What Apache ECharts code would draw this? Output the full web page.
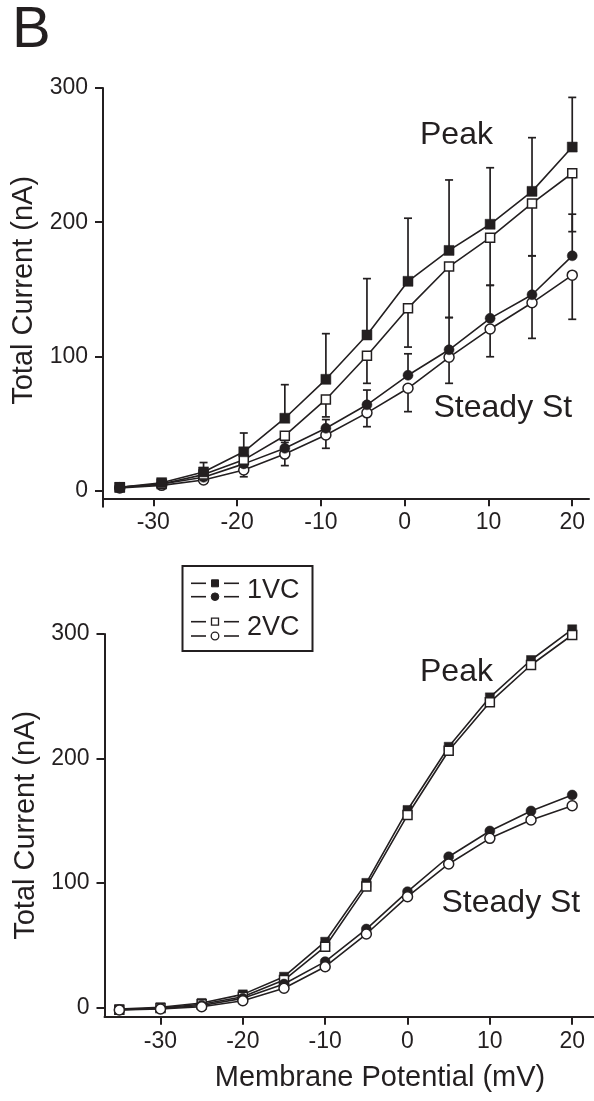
<!DOCTYPE html>
<html>
<head>
<meta charset="utf-8">
<title>Total Current vs Membrane Potential</title>
<script src="https://cdn.jsdelivr.net/npm/echarts@6/dist/echarts.min.js"></script>
<style>
  html, body { margin: 0; padding: 0; background: #fff; }
  #chart { width: 594px; height: 1101px; }
</style>
</head>
<body>
<div id="chart"></div>
<script>
// Membrane potential steps (mV) for the upper panel (mean ± SD) and lower panel
const vTop = [-34, -29, -24, -19.2, -14.3, -9.4, -4.5, 0.4, 5.3, 10.2, 15.2, 20];
const vBottom = [-35, -30, -25, -20, -15, -10, -5, 0, 5, 10, 15, 20];

// Upper panel: means and the end of each one-sided SD bar (nA)
const peak1Top = [2.5, 6, 14, 29, 54, 83, 116, 156, 179, 198.5, 223, 256];
const peak1TopSd = [3, 7, 21, 43, 79, 117, 158, 203, 231.5, 240.6, 263, 293];
const peak2Top = [2.5, 5, 12, 23, 41, 68, 100.5, 136, 167, 188.5, 214, 236.5];
const peak2TopSd = [2, 4, 9, 17, 33, 55, 80, 107, 129, 153, 175, 193];
const steady1Top = [2.5, 5, 10, 20, 31.6, 46.5, 64, 86, 105, 128.4, 146, 175];
const steady1TopSd = [3, 6, 12, 24, 36, 53, 75, 102, 129, 153, 175, 206];
const steady2Top = [2, 4, 8, 15.4, 27.3, 41.5, 58, 76.3, 99.4, 120.5, 140, 160.6];
const steady2TopSd = [1.5, 3, 5.7, 10.4, 18.7, 31.6, 47.7, 58.9, 80, 99.8, 113.5, 127.7];

// Lower panel (nA)
const peak1Bottom = [-1.5, 0, 3.5, 10.4, 24.6, 52.7, 100, 158.6, 209.4, 249.1, 279.1, 303.8];
const peak2Bottom = [-2, -0.5, 2.5, 8.5, 21.9, 48.7, 97, 154.5, 206.2, 245.1, 275.1, 299.2];
const steady1Bottom = [-2, -1, 1.5, 7.2, 18.7, 36.7, 62.9, 92.9, 121, 141.7, 157.8, 170.6];
const steady2Bottom = [-2.2, -1.4, 0.5, 5.3, 15.3, 32.6, 58.9, 88.9, 115.2, 135.8, 150.5, 162];

// Tick labels
const xTicks = [-30, -20, -10, 0, 10, 20];
const yTicks = [0, 100, 200, 300];

const ink = '#231f20';
const font = "'Liberation Sans', Arial, Helvetica, sans-serif";

function pairs(xs, ys) { return xs.map((x, i) => [x, ys[i]]); }
function triples(xs, ys, es) { return xs.map((x, i) => [x, ys[i], es[i]]); }

function errRender(params, api) {
  const x = api.value(0), v = api.value(1), e = api.value(2);
  const p0 = api.coord([x, v]);
  const p1 = api.coord([x, e]);
  const hw = 4;
  return {
    type: 'group',
    children: [
      { type: 'line', shape: { x1: p0[0], y1: p0[1], x2: p1[0], y2: p1[1] },
        style: { stroke: ink, lineWidth: 1.7 } },
      { type: 'line', shape: { x1: p1[0] - hw, y1: p1[1], x2: p1[0] + hw, y2: p1[1] },
        style: { stroke: ink, lineWidth: 1.7 } }
    ]
  };
}

function errSeries(idx, xs, ys, es) {
  return {
    type: 'custom', xAxisIndex: idx, yAxisIndex: idx, z: 1,
    renderItem: errRender, encode: { x: 0, y: 1 },
    data: triples(xs, ys, es), silent: true, clip: false
  };
}

function lineSeries(idx, xs, ys, symbol, filled, size) {
  return {
    type: 'line', xAxisIndex: idx, yAxisIndex: idx, z: 3,
    data: pairs(xs, ys), symbol: symbol, symbolSize: size, showSymbol: true,
    clip: false, silent: true,
    lineStyle: { color: ink, width: 1.6 },
    itemStyle: filled
      ? { color: ink, borderColor: ink, borderWidth: 0.5 }
      : { color: '#ffffff', borderColor: ink, borderWidth: 1.5 }
  };
}

function makeX(gridIndex, min, max, offset) {
  return {
    type: 'value', gridIndex: gridIndex, min: min, max: max, offset: offset,
    axisLine: { show: true, onZero: false, lineStyle: { color: ink, width: 2 } },
    axisTick: { show: true, length: 8, customValues: xTicks, lineStyle: { color: ink, width: 2 } },
    axisLabel: { customValues: xTicks, color: ink, fontSize: 23, fontFamily: font, margin: 13 },
    splitLine: { show: false }
  };
}

function makeY(gridIndex, min, padLeft) {
  return {
    type: 'value', gridIndex: gridIndex, min: min, max: 300,
    name: 'Total Current (nA)', nameLocation: 'middle', nameGap: 62,
    nameTextStyle: { color: ink, fontSize: 29, fontFamily: font, padding: [0, 0, 0, padLeft] },
    axisLine: { show: true, onZero: false, lineStyle: { color: ink, width: 2 } },
    axisTick: { show: true, length: 8, customValues: yTicks, lineStyle: { color: ink, width: 2 } },
    axisLabel: { customValues: yTicks, color: ink, fontSize: 23, fontFamily: font, margin: 15 },
    splitLine: { show: false }
  };
}

function legendGraphics() {
  const g = [];
  g.push({ type: 'rect', shape: { x: 182.5, y: 566, width: 130, height: 85 },
    style: { fill: '#fff', stroke: ink, lineWidth: 2 }, z: 10 });
  const rows = [
    { ys: [583.3, 596.7], filled: true, label: '1VC', ty: 590.5 },
    { ys: [621.7, 636], filled: false, label: '2VC', ty: 628 }
  ];
  rows.forEach(r => {
    r.ys.forEach((y, k) => {
      g.push({ type: 'line', shape: { x1: 191, y1: y, x2: 206, y2: y }, style: { stroke: ink, lineWidth: 1.6 }, z: 11 });
      g.push({ type: 'line', shape: { x1: 224, y1: y, x2: 239, y2: y }, style: { stroke: ink, lineWidth: 1.6 }, z: 11 });
      const st = r.filled ? { fill: ink, stroke: ink, lineWidth: 1 } : { fill: '#fff', stroke: ink, lineWidth: 1.3 };
      if (k === 0) {
        g.push({ type: 'rect', shape: { x: 211.5, y: y - 3.5, width: 7, height: 7 }, style: st, z: 11 });
      } else {
        g.push({ type: 'circle', shape: { cx: 215, cy: y, r: 3.8 }, style: st, z: 11 });
      }
    });
    g.push({ type: 'text', x: 247, y: r.ty, z: 11,
      style: { text: r.label, fill: ink, font: '27px ' + font, verticalAlign: 'middle', align: 'left' } });
  });
  return g;
}

function label(text, x, y, size) {
  return { type: 'text', x: x, y: y, z: 12,
    style: { text: text, fill: ink, font: size + 'px ' + font, verticalAlign: 'middle', align: 'left' } };
}

const chart = echarts.init(document.getElementById('chart'), null, { renderer: 'canvas' });

chart.setOption({
  animation: false,
  backgroundColor: '#ffffff',
  grid: [
    { left: 103, top: 88, width: 486, height: 418.7 },
    { left: 104.5, top: 634, width: 489.1, height: 382.7 }
  ],
  xAxis: [
    makeX(0, -36, 22, -8.4),
    makeX(1, -36.8, 22.6, 0)
  ],
  yAxis: [
    makeY(0, -11.9, 14),
    makeY(1, -7.55, 0)
  ],
  series: [
    errSeries(0, vTop, peak1Top, peak1TopSd),
    errSeries(0, vTop, peak2Top, peak2TopSd),
    errSeries(0, vTop, steady1Top, steady1TopSd),
    errSeries(0, vTop, steady2Top, steady2TopSd),
    lineSeries(0, vTop, steady2Top, 'circle', false, 10),
    lineSeries(0, vTop, steady1Top, 'circle', true, 10),
    lineSeries(0, vTop, peak2Top, 'rect', false, 9),
    lineSeries(0, vTop, peak1Top, 'rect', true, 10),
    lineSeries(1, vBottom, peak1Bottom, 'rect', true, 9),
    lineSeries(1, vBottom, peak2Bottom, 'rect', false, 9),
    lineSeries(1, vBottom, steady1Bottom, 'circle', true, 10),
    lineSeries(1, vBottom, steady2Bottom, 'circle', false, 10)
  ],
  graphic: [
    label('B', 12, 31, 58),
    label('Peak', 420, 134.7, 32),
    label('Steady St', 433.5, 408, 32),
    label('Peak', 420, 672, 32),
    label('Steady St', 441.5, 903.5, 32),
    { type: 'text', x: 380, y: 1077.5, z: 12,
      style: { text: 'Membrane Potential (mV)', fill: ink, font: '29px ' + font, verticalAlign: 'middle', align: 'center' } }
  ].concat(legendGraphics())
});
</script>
</body>
</html>
